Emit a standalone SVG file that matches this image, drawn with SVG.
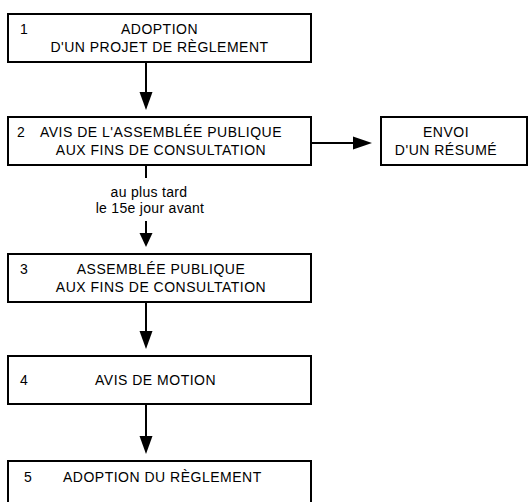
<svg xmlns="http://www.w3.org/2000/svg" width="528" height="502" viewBox="0 0 528 502">
  <defs>
    <style>
      .box { fill: #ffffff; stroke: #000000; stroke-width: 2; }
      .wire { fill: none; stroke: #000000; stroke-width: 2; }
      .head { fill: #000000; stroke: none; }
      text { font-family: "Liberation Sans", Arial, sans-serif; font-size: 14px; fill: #000000; letter-spacing: 0.5px; }
      .c { text-anchor: middle; }
      .note { letter-spacing: 0.3px; }
    </style>
  </defs>
  <rect width="528" height="502" fill="#ffffff"/>

  <!-- connectors -->
  <g id="connectors">
    <line class="wire" x1="146" y1="62" x2="146" y2="93"/>
    <polygon class="head" points="139.5,92 152.5,92 146,110"/>

    <line class="wire" x1="311" y1="143" x2="354" y2="143"/>
    <polygon class="head" points="353,136.5 353,149.5 372,143"/>

    <line class="wire" x1="146" y1="165" x2="146" y2="178"/>
    <text class="c note" x="149" y="197">au plus tard</text>
    <text class="c note" x="150" y="213">le 15e jour avant</text>
    <line class="wire" x1="146" y1="221" x2="146" y2="234"/>
    <polygon class="head" points="139.5,233 152.5,233 146,247"/>

    <line class="wire" x1="146" y1="302" x2="146" y2="332"/>
    <polygon class="head" points="139.5,331 152.5,331 146,349"/>

    <line class="wire" x1="146" y1="404" x2="146" y2="437"/>
    <polygon class="head" points="139.5,436 152.5,436 146,454"/>
  </g>

  <g id="step1">
    <rect class="box" x="8" y="14" width="303" height="48"/>
    <text x="20" y="34">1</text>
    <text class="c" x="159.5" y="34">ADOPTION</text>
    <text class="c" x="159.5" y="52">D'UN PROJET DE RÈGLEMENT</text>
  </g>

  <g id="step2">
    <rect class="box" x="8" y="117" width="303" height="48"/>
    <text x="17" y="137">2</text>
    <text class="c" x="161" y="137">AVIS DE L'ASSEMBLÉE PUBLIQUE</text>
    <text class="c" x="161" y="155">AUX FINS DE CONSULTATION</text>
  </g>

  <g id="summary">
    <rect class="box" x="381" y="117" width="146" height="48"/>
    <text class="c" x="446" y="137">ENVOI</text>
    <text class="c" x="446" y="155">D'UN RÉSUMÉ</text>
  </g>

  <g id="step3">
    <rect class="box" x="8" y="254" width="303" height="48"/>
    <text x="20" y="274">3</text>
    <text class="c" x="161" y="274">ASSEMBLÉE PUBLIQUE</text>
    <text class="c" x="161" y="292">AUX FINS DE CONSULTATION</text>
  </g>

  <g id="step4">
    <rect class="box" x="8" y="356" width="303" height="48"/>
    <text x="20" y="385">4</text>
    <text x="95" y="385">AVIS DE MOTION</text>
  </g>

  <g id="step5">
    <rect class="box" x="8" y="461" width="303" height="42"/>
    <text x="24" y="482">5</text>
    <text x="63" y="482">ADOPTION DU RÈGLEMENT</text>
  </g>
</svg>
